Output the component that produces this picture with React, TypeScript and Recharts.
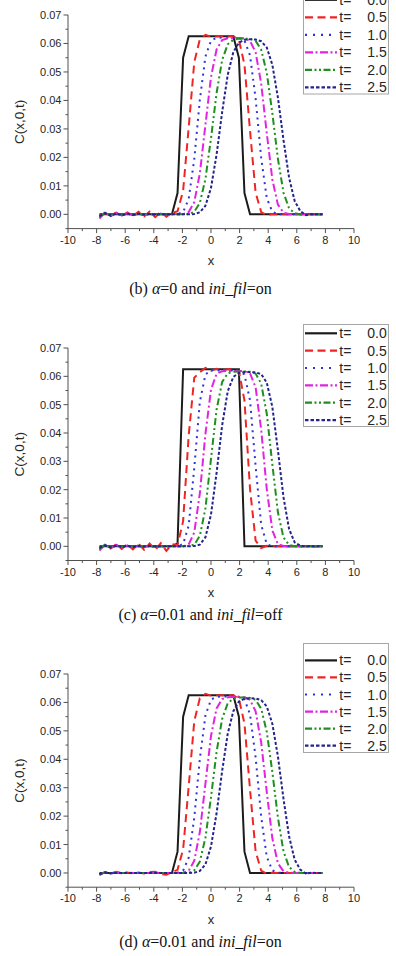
import React from 'react';
import { LineChart, Line, XAxis, YAxis, Legend, Label } from 'recharts';

// Sampling positions along x (41 nodes from -7.8 to 7.8)
const xGrid = [
  -7.8, -7.41, -7.02, -6.63, -6.24, -5.85, -5.46, -5.07, -4.68, -4.29, -3.9,
  -3.51, -3.12, -2.73, -2.34, -1.95, -1.56, -1.17, -0.78, -0.39, 0, 0.39, 0.78,
  1.17, 1.56, 1.95, 2.34, 2.73, 3.12, 3.51, 3.9, 4.29, 4.68, 5.07, 5.46, 5.85,
  6.24, 6.63, 7.02, 7.41, 7.8,
];

const timeLabels = ['0.0', '0.5', '1.0', '1.5', '2.0', '2.5'];
const xTicks = [-10, -9, -8, -7, -6, -5, -4, -3, -2, -1, 0, 1, 2, 3, 4, 5, 6, 7, 8, 9, 10];
const yTicks = [-0.005, 0, 0.005, 0.01, 0.015, 0.02, 0.025, 0.03, 0.035, 0.04, 0.045, 0.05, 0.055, 0.06, 0.065, 0.07];

// (b) alpha = 0, ini_fil = on
const bT00 = [0, 0, 0, 0, 0, 0, 0, 0, 0, 0, 0, 0, 0, 0, 0.0075, 0.055, 0.0625, 0.0625, 0.0625, 0.0625, 0.0625, 0.0625, 0.0625, 0.0625, 0.0625, 0.055, 0.0075, 0, 0, 0, 0, 0, 0, 0, 0, 0, 0, 0, 0, 0, 0];
const bT05 = [-0.0003, 0.0004, -0.0004, 0.0006, -0.0005, 0.0007, -0.0006, 0.0009, -0.0007, 0.001, -0.001, 0.0009, -0.0008, 0.0005, 0.0011, 0.0083, 0.0305, 0.0534, 0.0615, 0.063, 0.0624, 0.0625, 0.0625, 0.0625, 0.0625, 0.0613, 0.0526, 0.0293, 0.0076, 0.0008, -0.0003, 0.0001, 0, 0, 0, 0, 0, 0, 0, 0, 0];
const bT10 = [-0.0008, 0.0006, -0.0006, 0.0004, -0.0004, 0.0003, -0.0003, 0.0003, -0.0003, 0.0003, -0.0002, 0.0002, -0.0001, 0.0001, 0.0001, 0.0008, 0.0054, 0.0194, 0.0402, 0.0554, 0.061, 0.062, 0.0621, 0.0621, 0.0621, 0.062, 0.0611, 0.0558, 0.0407, 0.0198, 0.0057, 0.0009, 0.0001, 0, 0, 0, 0, 0, 0, 0, 0];
const bT15 = [-0.0015, 0.0008, -0.0006, 0.0005, -0.0004, 0.0004, -0.0003, 0.0003, -0.0003, 0.0002, -0.0002, 0.0002, -0.0001, 0.0001, 0, 0.0001, 0.0008, 0.0043, 0.0144, 0.0314, 0.0482, 0.0579, 0.0612, 0.0618, 0.0619, 0.0619, 0.0618, 0.0609, 0.0569, 0.0459, 0.0285, 0.0122, 0.0034, 0.0006, 0.0001, 0, 0, 0, 0, 0, 0];
const bT20 = [-0.001, 0.0005, -0.0004, 0.0003, -0.0003, 0.0002, -0.0002, 0.0002, -0.0001, 0.0001, -0.0001, 0.0001, 0, 0, 0, 0, 0.0001, 0.0009, 0.004, 0.0124, 0.0267, 0.0426, 0.0542, 0.0597, 0.0613, 0.0617, 0.0617, 0.0616, 0.0609, 0.0578, 0.0497, 0.0355, 0.0195, 0.0076, 0.0021, 0.0004, 0, 0, 0, 0, 0];
const bT25 = [-0.0006, 0.0004, -0.0005, 0.0003, -0.0003, 0.0002, -0.0002, 0.0002, -0.0001, 0.0001, -0.0001, 0.0001, 0, 0, 0, 0, 0, 0.0001, 0.0007, 0.003, 0.0093, 0.021, 0.0359, 0.049, 0.0569, 0.0603, 0.0613, 0.0615, 0.0614, 0.0608, 0.0586, 0.0525, 0.041, 0.0261, 0.0129, 0.0047, 0.0012, -0.0003, 0.0001, 0, 0];

// (c) alpha = 0.01, ini_fil = off
const cT00 = [0, 0, 0, 0, 0, 0, 0, 0, 0, 0, 0, 0, 0, 0, 0.001, 0.0625, 0.0625, 0.0625, 0.0625, 0.0625, 0.0625, 0.0625, 0.0625, 0.0625, 0.0625, 0.0625, 0, 0, 0, 0, 0, 0, 0, 0, 0, 0, 0, 0, 0, 0, 0];
const cT05 = [-0.001, 0.0006, -0.0008, 0.0007, -0.0009, 0.0008, -0.0011, 0.0009, -0.0012, 0.001, -0.0013, 0.0011, -0.0016, 0.0008, 0.0004, 0.0089, 0.0391, 0.0595, 0.0615, 0.063, 0.0619, 0.0627, 0.0622, 0.0625, 0.0625, 0.0619, 0.0515, 0.0202, 0.002, -0.0006, 0.0002, 0, 0, 0, 0, 0, 0, 0, 0, 0, 0];
const cT10 = [-0.0008, 0.0005, -0.0004, 0.0004, -0.0003, 0.0003, -0.0003, 0.0002, -0.0002, 0.0002, -0.0002, 0.0002, -0.0001, 0.0001, 0, 0.0008, 0.0073, 0.0277, 0.051, 0.0606, 0.0622, 0.062, 0.0621, 0.0621, 0.0621, 0.062, 0.0607, 0.0515, 0.0283, 0.0076, 0.0008, 0, 0, 0, 0, 0, 0, 0, 0, 0, 0];
const cT15 = [-0.0015, 0.0007, -0.0006, 0.0005, -0.0004, 0.0003, -0.0003, 0.0003, -0.0002, 0.0002, -0.0002, 0.0001, -0.0001, 0.0001, 0, 0, 0.0007, 0.0049, 0.0187, 0.0397, 0.0553, 0.0609, 0.0618, 0.0619, 0.0619, 0.0619, 0.0618, 0.061, 0.0561, 0.0412, 0.0202, 0.0056, 0.0008, 0.0001, 0, 0, 0, 0, 0, 0, 0];
const cT20 = [-0.0009, 0.0004, -0.0004, 0.0003, -0.0003, 0.0002, -0.0002, 0.0002, -0.0001, 0.0001, -0.0001, 0.0001, 0, 0, 0, 0, 0.0001, 0.0006, 0.0037, 0.0134, 0.0309, 0.0483, 0.058, 0.0611, 0.0616, 0.0617, 0.0617, 0.0616, 0.061, 0.0574, 0.0468, 0.0289, 0.012, 0.0031, 0.0005, 0, 0, 0, 0, 0, 0];
const cT25 = [-0.0005, 0.0003, -0.0004, 0.0003, -0.0002, 0.0002, -0.0002, 0.0001, -0.0001, 0.0001, 0, 0, 0, 0, 0, 0, 0, 0.0001, 0.0006, 0.0032, 0.0112, 0.0259, 0.0427, 0.0547, 0.0598, 0.0612, 0.0615, 0.0615, 0.0614, 0.0608, 0.0578, 0.0492, 0.0339, 0.0173, 0.0061, 0.0014, 0.0002, 0, 0, 0, 0];

// (d) alpha = 0.01, ini_fil = on
const dT00 = [0, 0, 0, 0, 0, 0, 0, 0, 0, 0, 0, 0, 0, 0, 0.0075, 0.055, 0.0625, 0.0625, 0.0625, 0.0625, 0.0625, 0.0625, 0.0625, 0.0625, 0.0625, 0.055, 0.0075, 0, 0, 0, 0, 0, 0, 0, 0, 0, 0, 0, 0, 0, 0];
const dT05 = [-0.0005, 0.0003, -0.0002, 0.0004, -0.0002, 0.0002, -0.0002, 0.0002, -0.0002, 0.0003, 0.0004, -0.0004, -0.0006, 0.0003, 0.0011, 0.0083, 0.0305, 0.0534, 0.0615, 0.063, 0.0624, 0.0625, 0.0625, 0.0625, 0.0625, 0.0613, 0.0526, 0.0293, 0.0076, 0.0008, -0.0003, 0.0001, 0, 0, 0, 0, 0, 0, 0, 0, 0];
const dT10 = [-0.0004, 0.0002, -0.0002, 0.0002, -0.0001, 0.0001, 0, 0, 0, 0, 0, 0, 0, 0, 0.0001, 0.0008, 0.0054, 0.0194, 0.0402, 0.0554, 0.061, 0.062, 0.0621, 0.0621, 0.0621, 0.062, 0.0611, 0.0558, 0.0407, 0.0198, 0.0057, 0.0009, 0.0001, 0, 0, 0, 0, 0, 0, 0, 0];
const dT15 = [-0.0008, 0.0003, -0.0002, 0.0002, -0.0001, 0.0001, 0, 0, 0, 0, 0, 0, 0, 0, 0, 0.0001, 0.0008, 0.0043, 0.0144, 0.0314, 0.0482, 0.0579, 0.0612, 0.0618, 0.0619, 0.0619, 0.0618, 0.0609, 0.0569, 0.0459, 0.0285, 0.0122, 0.0034, 0.0006, 0.0001, 0, 0, 0, 0, 0, 0];
const dT20 = [-0.0005, 0.0002, -0.0001, 0.0001, 0, 0, 0, 0, 0, 0, 0, 0, 0, 0, 0, 0, 0.0001, 0.0009, 0.004, 0.0124, 0.0267, 0.0426, 0.0542, 0.0597, 0.0613, 0.0617, 0.0617, 0.0616, 0.0609, 0.0578, 0.0497, 0.0355, 0.0195, 0.0076, 0.0021, 0.0004, 0, 0, 0, 0, 0];
const dT25 = [-0.0004, 0.0002, -0.0001, 0, 0, 0, 0, 0, 0, 0, 0, 0, 0, 0, 0, 0, 0, 0.0001, 0.0007, 0.003, 0.0093, 0.021, 0.0359, 0.049, 0.0569, 0.0603, 0.0613, 0.0615, 0.0614, 0.0608, 0.0586, 0.0525, 0.041, 0.0261, 0.0129, 0.0047, 0.0012, -0.0002, 0.0001, 0, 0];

// Line styles for the six time levels
const seriesStyle = [
  { color: '#1c1c1c', dash: undefined, legendDash: undefined, width: 2 },
  { color: '#f02424', dash: '8 5', legendDash: '8 4.5', width: 2 },
  { color: '#3232dc', dash: '2 4.5', legendDash: '2 6', width: 2 },
  { color: '#e024e0', dash: '8 3 2 3', legendDash: '8 2.5 2 2.5', width: 2 },
  { color: '#1f8f1f', dash: '7 3 2 3 2 3', legendDash: '7 2.5 2 2.5 2 2.5', width: 2 },
  { color: '#24248c', dash: '3 2', legendDash: '3.5 2', width: 2 },
];

const SANS = '"Liberation Sans", Arial, Helvetica, sans-serif';
const SERIF = '"Liberation Serif", "Times New Roman", Times, serif';
const AXIS = '#505050';
const TEXT = '#262626';

function buildRows(cols: number[][]) {
  return xGrid.map((x, i) => {
    const row: Record<string, number> = { x };
    cols.forEach((c, j) => {
      row['s' + j] = c[i];
    });
    return row;
  });
}

function XTick(props: any) {
  const { x, y, payload } = props;
  const v = payload.value as number;
  const major = v % 2 === 0;
  return (
    <g>
      <line x1={x} x2={x} y1={y} y2={y + (major ? 4.5 : 2.5)} stroke={AXIS} strokeWidth={1} />
      {major && (
        <text x={x} y={y + 15.3} textAnchor="middle" fontSize={11} fill={TEXT} fontFamily={SANS}>
          {v}
        </text>
      )}
    </g>
  );
}

function YTick(props: any) {
  const { x, y, payload } = props;
  const v = payload.value as number;
  const major = Math.round(v * 1000) % 10 === 0;
  return (
    <g>
      <line x1={x - (major ? 4.5 : 2.5)} x2={x} y1={y} y2={y} stroke={AXIS} strokeWidth={1} />
      {major && (
        <text x={x - 6.5} y={y + 4} textAnchor="end" fontSize={11} fill={TEXT} fontFamily={SANS}>
          {v.toFixed(2)}
        </text>
      )}
    </g>
  );
}

function LegendBox({ height, firstRow, gap }: { height: number; firstRow: number; gap: number }) {
  return (
    <svg width={86} height={height} style={{ display: 'block', overflow: 'visible' }}>
      <rect x={0.5} y={0.5} width={85} height={height - 1} fill="#fff" stroke="#a6a6a6" strokeWidth={1} />
      {seriesStyle.map((s, i) => {
        const cy = firstRow + i * gap;
        return (
          <g key={i}>
            <line x1={2} x2={34} y1={cy} y2={cy} stroke={s.color} strokeWidth={2.2} strokeDasharray={s.legendDash} />
            <text x={36.3} y={cy + 5} fontSize={14} fill={TEXT} fontFamily={SANS}>
              t=
            </text>
            <text x={83.7} y={cy + 5} fontSize={14} fill={TEXT} fontFamily={SANS} textAnchor="end">
              {timeLabels[i]}
            </text>
          </g>
        );
      })}
    </svg>
  );
}

type PanelProps = {
  cols: number[][];
  plotTop: number;
  plotBottom: number;
  legendTop: number;
  legendHeight: number;
  legendFirstRow: number;
  legendGap: number;
  captionY: number;
  caption: React.ReactNode;
};

function Panel(p: PanelProps) {
  const rows = buildRows(p.cols);
  const padTop = 10;
  const plotH = p.plotBottom - p.plotTop;
  const chartTop = p.plotTop - padTop;
  const chartH = padTop + plotH + 40;
  const plotMid = padTop + plotH / 2;
  const plotBottomSvg = padTop + plotH;
  return (
    <>
      <div style={{ position: 'absolute', left: 0, top: chartTop, width: 396, height: chartH }}>
        <LineChart width={396} height={chartH} data={rows} margin={{ top: padTop, right: 42, bottom: 0, left: 0 }}>
          <XAxis
            dataKey="x"
            type="number"
            domain={[-10, 10]}
            ticks={xTicks}
            interval={0}
            allowDataOverflow
            height={40}
            tickSize={0}
            tickMargin={0}
            tickLine={false}
            axisLine={{ stroke: AXIS, strokeWidth: 1 }}
            tick={<XTick />}
          >
            <Label
              content={() => (
                <text x={211} y={plotBottomSvg + 36.5} textAnchor="middle" fontSize={13} fill={TEXT} fontFamily={SANS}>
                  x
                </text>
              )}
            />
          </XAxis>
          <YAxis
            type="number"
            domain={[-0.005, 0.07]}
            ticks={yTicks}
            interval={0}
            allowDataOverflow
            width={68}
            tickSize={0}
            tickMargin={0}
            tickLine={false}
            axisLine={{ stroke: AXIS, strokeWidth: 1 }}
            tick={<YTick />}
          >
            <Label
              content={() => (
                <text
                  x={19}
                  y={plotMid}
                  transform={`rotate(-90 19 ${plotMid})`}
                  textAnchor="middle"
                  dominantBaseline="central"
                  fontSize={13.5}
                  fill={TEXT}
                  fontFamily={SANS}
                >
                  C(x,0,t)
                </text>
              )}
            />
          </YAxis>
          <Legend
            layout="vertical"
            align="center"
            verticalAlign="middle"
            wrapperStyle={{
              position: 'absolute',
              left: 303,
              top: p.legendTop - chartTop,
              width: 86,
              height: p.legendHeight,
            }}
            content={() => <LegendBox height={p.legendHeight} firstRow={p.legendFirstRow} gap={p.legendGap} />}
          />
          {seriesStyle.map((s, j) => (
            <Line
              key={j}
              type="linear"
              dataKey={'s' + j}
              name={'t= ' + timeLabels[j]}
              stroke={s.color}
              strokeWidth={s.width}
              strokeDasharray={s.dash}
              dot={false}
              activeDot={false}
              isAnimationActive={false}
            />
          ))}
        </LineChart>
      </div>
      <div
        style={{
          position: 'absolute',
          left: 0,
          width: 401,
          top: p.captionY - 10,
          height: 20,
          lineHeight: '20px',
          textAlign: 'center',
          fontFamily: SERIF,
          fontSize: 16,
          color: '#111',
          whiteSpace: 'nowrap',
        }}
      >
        {p.caption}
      </div>
    </>
  );
}

export default function App() {
  return (
    <div style={{ position: 'absolute', left: 0, top: 0, width: 396, height: 956, background: '#fff', overflow: 'hidden' }}>
      <Panel
        cols={[bT00, bT05, bT10, bT15, bT20, bT25]}
        plotTop={14.7}
        plotBottom={228.3}
        legendTop={-9.5}
        legendHeight={103.5}
        legendFirstRow={8.8}
        legendGap={17.5}
        captionY={289.3}
        caption={
          <>
            (b) <i>α</i>=0 and <i>ini_fil</i>=on
          </>
        }
      />
      <Panel
        cols={[cT00, cT05, cT10, cT15, cT20, cT25]}
        plotTop={347.7}
        plotBottom={560.2}
        legendTop={324}
        legendHeight={103}
        legendFirstRow={9.3}
        legendGap={17.35}
        captionY={615}
        caption={
          <>
            (c) <i>α</i>=0.01 and <i>ini_fil</i>=off
          </>
        }
      />
      <Panel
        cols={[dT00, dT05, dT10, dT15, dT20, dT25]}
        plotTop={674.3}
        plotBottom={887.5}
        legendTop={643.3}
        legendHeight={110}
        legendFirstRow={17.4}
        legendGap={17.05}
        captionY={941.7}
        caption={
          <>
            (d) <i>α</i>=0.01 and <i>ini_fil</i>=on
          </>
        }
      />
    </div>
  );
}
